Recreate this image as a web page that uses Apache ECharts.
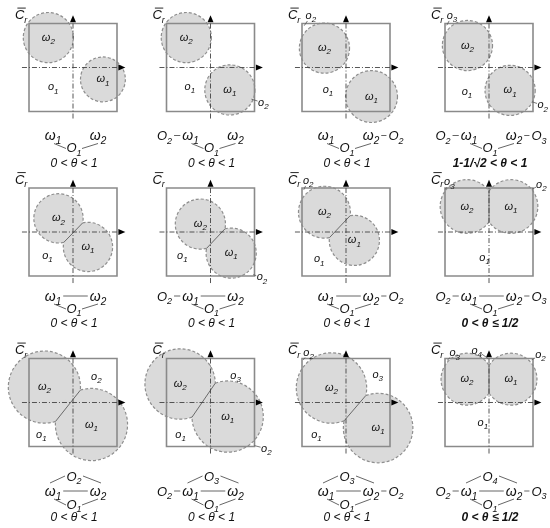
<!DOCTYPE html>
<html>
<head>
<meta charset="utf-8">
<script src="https://cdn.jsdelivr.net/npm/echarts@6/dist/echarts.min.js"></script>
<style>
html, body { margin: 0; background: #fff; }
#main { width: 550px; height: 528px; }
</style>
</head>
<body>
<div id="main"></div>
<script>
// circles, as [centre x, centre y, radius]; the square runs from -1 to 1
var omega1 = [[0.68, -0.27, 0.51], [0.44, -0.51, 0.57], [0.58, -0.66, 0.59], [0.48, -0.52, 0.57],
  [0.34, -0.34, 0.56], [0.47, -0.48, 0.57], [0.19, -0.19, 0.57], [0.5, 0.58, 0.61],
  [0.42, -0.5, 0.82], [0.39, -0.32, 0.81], [0.73, -0.58, 0.79], [0.5, 0.53, 0.59]];
var omega2 = [[-0.56, 0.68, 0.57], [-0.55, 0.68, 0.57], [-0.49, 0.44, 0.57], [-0.49, 0.5, 0.57],
  [-0.33, 0.31, 0.56], [-0.23, 0.18, 0.57], [-0.49, 0.45, 0.59], [-0.5, 0.58, 0.61],
  [-0.65, 0.35, 0.82], [-0.69, 0.42, 0.8], [-0.33, 0.33, 0.8], [-0.5, 0.53, 0.59]];

// region names: [name, x, y, leader target x, leader target y]
var regionLabels = [
  [['o1', -0.45, -0.45]],
  [['o1', -0.47, -0.44], ['o2', 1.2, -0.8, 0.93, -0.72]],
  [['o1', -0.41, -0.5], ['o2', -0.8, 1.17, -0.95, 0.95]],
  [['o1', -0.5, -0.56], ['o3', -0.84, 1.18, -0.96, 0.96], ['o2', 1.22, -0.86, 0.98, -0.78]],
  [['o1', -0.58, -0.55]],
  [['o1', -0.64, -0.55], ['o2', 1.17, -1.03, 0.97, -0.97]],
  [['o1', -0.61, -0.62], ['o2', -0.86, 1.17, -0.96, 0.96]],
  [['o1', -0.1, -0.58], ['o3', -0.9, 1.13, -0.99, 0.97], ['o2', 1.19, 1.08, 0.97, 0.97]],
  [['o1', -0.72, -0.74], ['o2', 0.53, 0.58]],
  [['o1', -0.68, -0.73], ['o3', 0.57, 0.61], ['o2', 1.27, -1.05, 1.0, -0.98]],
  [['o1', -0.67, -0.74], ['o3', 0.72, 0.63], ['o2', -0.85, 1.13, -0.97, 0.97]],
  [['o1', -0.14, -0.47], ['o3', -0.78, 1.12, -0.95, 0.96], ['o4', -0.28, 1.18, -0.02, 1.0], ['o2', 1.17, 1.08, 0.97, 0.97]]
];

// adjacency graphs under each panel
var leftNode = ['', 'O2', '', 'O2', '', 'O2', '', 'O2', '', 'O2', '', 'O2'];
var rightNode = ['', '', 'O2', 'O3', '', '', 'O2', 'O3', '', '', 'O2', 'O3'];
var topNode = ['', '', '', '', '', '', '', '', 'O2', 'O3', 'O3', 'O4'];
var omegaEdge = [0, 0, 0, 0, 1, 1, 1, 1, 1, 1, 1, 1];
var thetaLabel = ['0 < θ < 1', '0 < θ < 1', '0 < θ < 1', '1-1/√2 < θ < 1',
  '0 < θ < 1', '0 < θ < 1', '0 < θ < 1', '0 < θ ≤ 1/2',
  '0 < θ < 1', '0 < θ < 1', '0 < θ < 1', '0 < θ ≤ 1/2'];
var thetaBold = [0, 0, 0, 1, 0, 0, 0, 1, 0, 0, 0, 1];

// layout
var U = 44;
var colX = [73, 210.5, 346, 489];
var rowY = [67.5, 232, 402.5];
var graphRowY = [69, 65, 89.5];

var FILL = '#dadada', EDGE = '#8e8e8e', SQUARE = '#8a8a8a', AXIS = '#444', INK = '#111', LINK = '#555';
var FAMILY = '"Liberation Sans", Arial, sans-serif';
var measure = document.createElement('canvas').getContext('2d');
function font(size, bold) { return 'italic ' + (bold ? 'bold ' : '') + size + 'px ' + FAMILY; }
function widthOf(s, f) { measure.font = f; return measure.measureText(s).width; }
function halfWidth(name, size) {
  return (widthOf(name.charAt(0), font(size)) + widthOf(name.slice(1), font(Math.round(size * 0.7)))) / 2;
}

// a letter with its subscript, centred on (x, y)
function subText(x, y, name, size) {
  var f1 = font(size), f2 = font(Math.round(size * 0.7));
  var main = name.charAt(0), sub = name.slice(1);
  var w1 = widthOf(main, f1);
  var left = x - halfWidth(name, size);
  return [
    { type: 'text', x: left, y: y, z2: 5, style: { text: main, font: f1, fill: INK, align: 'left', verticalAlign: 'middle' } },
    { type: 'text', x: left + w1, y: y + size * 0.37, z2: 5, style: { text: sub, font: f2, fill: INK, align: 'left', verticalAlign: 'middle' } }
  ];
}

function circlesItem(params, api) {
  var a = api.coord([api.value(0), api.value(1)]), ra = api.size([api.value(2), 0])[0];
  var b = api.coord([api.value(3), api.value(4)]), rb = api.size([api.value(5), 0])[0];
  var dx = b[0] - a[0], dy = b[1] - a[1], d = Math.sqrt(dx * dx + dy * dy);
  var dash = { fill: 'none', stroke: EDGE, lineWidth: 1.2, lineDash: [3, 2] };
  var kids = [
    { type: 'circle', z2: 0, shape: { cx: a[0], cy: a[1], r: ra }, style: { fill: FILL } },
    { type: 'circle', z2: 0, shape: { cx: b[0], cy: b[1], r: rb }, style: { fill: FILL } }
  ];
  if (d < ra + rb) {
    var phi = Math.atan2(dy, dx), psi = phi + Math.PI;
    var al = Math.acos((ra * ra + d * d - rb * rb) / (2 * ra * d));
    var be = Math.acos((rb * rb + d * d - ra * ra) / (2 * rb * d));
    kids.push({ type: 'arc', z2: 1, shape: { cx: a[0], cy: a[1], r: ra, startAngle: phi + al, endAngle: phi - al + 2 * Math.PI, clockwise: true }, style: dash });
    kids.push({ type: 'arc', z2: 1, shape: { cx: b[0], cy: b[1], r: rb, startAngle: psi + be, endAngle: psi - be + 2 * Math.PI, clockwise: true }, style: dash });
    kids.push({ type: 'line', z2: 1, shape: {
      x1: a[0] + ra * Math.cos(phi + al), y1: a[1] + ra * Math.sin(phi + al),
      x2: a[0] + ra * Math.cos(phi - al), y2: a[1] + ra * Math.sin(phi - al)
    }, style: { stroke: '#6a6a6a', lineWidth: 1 } });
  } else {
    kids.push({ type: 'circle', z2: 1, shape: { cx: a[0], cy: a[1], r: ra }, style: dash });
    kids.push({ type: 'circle', z2: 1, shape: { cx: b[0], cy: b[1], r: rb }, style: dash });
  }
  return { type: 'group', children: kids };
}

function frameItem(params, api) {
  var cs = params.coordSys;
  var o = api.coord([0, 0]);
  var e = api.size([1.16, 0])[0], t = api.size([1.19, 0])[0];
  var dd = { stroke: AXIS, lineWidth: 0.9, lineDash: [5, 2, 1, 2] };
  return { type: 'group', children: [
    { type: 'rect', shape: { x: cs.x, y: cs.y, width: cs.width, height: cs.height }, style: { fill: 'none', stroke: SQUARE, lineWidth: 1.6 } },
    { type: 'line', shape: { x1: o[0] - e, y1: o[1], x2: o[0] + t - 4, y2: o[1] }, style: dd },
    { type: 'line', shape: { x1: o[0], y1: o[1] + e, x2: o[0], y2: o[1] - t + 4 }, style: dd },
    { type: 'polygon', shape: { points: [[o[0] + t, o[1]], [o[0] + t - 7, o[1] - 3], [o[0] + t - 7, o[1] + 3]] }, style: { fill: '#000' } },
    { type: 'polygon', shape: { points: [[o[0], o[1] - t], [o[0] - 3, o[1] - t + 7], [o[0] + 3, o[1] - t + 7]] }, style: { fill: '#000' } }
  ] };
}

function omegaItem(params, api) {
  var p = api.coord([api.value(0), api.value(1)]);
  return { type: 'group', children: subText(p[0], p[1], params.dataIndex === 0 ? 'ω2' : 'ω1', 11) };
}

function regionItem(i) {
  return function (params, api) {
    var d = regionLabels[i][params.dataIndex];
    var p = api.coord([d[1], d[2]]);
    var kids = subText(p[0], p[1], d[0], 11);
    if (d.length > 3) {
      var t = api.coord([d[3], d[4]]);
      var dx = t[0] - p[0], dy = t[1] - p[1], len = Math.sqrt(dx * dx + dy * dy);
      if (len > 8) {
        kids.push({ type: 'line', shape: { x1: p[0] + dx * 6 / len, y1: p[1] + dy * 6 / len, x2: t[0], y2: t[1] }, style: { stroke: LINK, lineWidth: 0.8 } });
      }
    }
    return { type: 'group', children: kids };
  };
}

function graphItem(i) {
  return function (params, api) {
    var o = api.coord([0, 0]);
    var row = Math.floor(i / 4), S = 14, SO = 13;
    var y = o[1] + graphRowY[row];
    var yTop = y - 15, yLow = y + (row === 2 ? 13 : 12), yTheta = y + (row === 2 ? 26 : 27);
    var xL = o[0] - 46, x1 = o[0] - 20, x2 = o[0] + 25, xR = o[0] + 50, xM = o[0] + 1;
    var kids = [];
    function node(x, yy, n, s) { kids = kids.concat(subText(x, yy, n, s)); }
    function link(ax, ay, bx, by) { kids.push({ type: 'line', shape: { x1: ax, y1: ay, x2: bx, y2: by }, style: { stroke: LINK, lineWidth: 0.9 } }); }
    var hW = halfWidth('ω1', S);
    node(x1, y, 'ω1', S);
    node(x2, y, 'ω2', S);
    node(xM, yLow, 'O1', SO);
    link(x1 + 1, y + 7, xM - 8, yLow);
    link(xM + 8, yLow, x2, y + 7);
    if (omegaEdge[i]) link(x1 + hW + 2, y - 1, x2 - hW - 2, y - 1);
    if (leftNode[i]) {
      node(xL, y, leftNode[i], SO);
      link(xL + halfWidth(leftNode[i], SO) + 2, y - 1, x1 - hW - 2, y - 1);
    }
    if (rightNode[i]) {
      node(xR, y, rightNode[i], SO);
      link(x2 + hW + 2, y - 1, xR - halfWidth(rightNode[i], SO) - 2, y - 1);
    }
    if (topNode[i]) {
      node(xM, yTop, topNode[i], SO);
      link(x1 - 3, y - 9, xM - 9, yTop - 1);
      link(xM + 9, yTop - 1, x2 + 3, y - 9);
    }
    kids.push({ type: 'text', x: xM, y: yTheta, style: { text: thetaLabel[i], font: font(12, thetaBold[i]), fill: INK, align: 'center', verticalAlign: 'middle' } });

    // C-bar-r name at the top left corner
    var c = api.coord([-1.18, 1.18]);
    var fc = font(13), wc = widthOf('C', fc);
    var left = c[0] - halfWidth('Cr', 13);
    kids = kids.concat(subText(c[0], c[1], 'Cr', 13));
    kids.push({ type: 'line', shape: { x1: left + 2.5, y1: c[1] - 7.5, x2: left + wc + 1.5, y2: c[1] - 7.5 }, style: { stroke: INK, lineWidth: 0.9 } });
    return { type: 'group', children: kids };
  };
}

var chart = echarts.init(document.getElementById('main'));
var grids = [], xAxes = [], yAxes = [], series = [];
for (var i = 0; i < 12; i++) {
  var c = i % 4, r = Math.floor(i / 4);
  grids.push({ left: colX[c] - U, top: rowY[r] - U, width: 2 * U, height: 2 * U });
  xAxes.push({ type: 'value', gridIndex: i, min: -1, max: 1, show: false });
  yAxes.push({ type: 'value', gridIndex: i, min: -1, max: 1, show: false });
  series.push({ type: 'custom', xAxisIndex: i, yAxisIndex: i, z: 1, clip: false, silent: true,
    data: [omega2[i].concat(omega1[i])], renderItem: circlesItem });
  series.push({ type: 'custom', xAxisIndex: i, yAxisIndex: i, z: 2, clip: false, silent: true,
    data: [[0, 0]], renderItem: frameItem });
  series.push({ type: 'custom', xAxisIndex: i, yAxisIndex: i, z: 3, clip: false, silent: true,
    data: [omega2[i].slice(0, 2), omega1[i].slice(0, 2)], renderItem: omegaItem });
  series.push({ type: 'custom', xAxisIndex: i, yAxisIndex: i, z: 3, clip: false, silent: true,
    data: regionLabels[i].map(function (d) { return [d[1], d[2]]; }), renderItem: regionItem(i) });
  series.push({ type: 'custom', xAxisIndex: i, yAxisIndex: i, z: 3, clip: false, silent: true,
    data: [[0, 0]], renderItem: graphItem(i) });
}

chart.setOption({
  animation: false,
  grid: grids,
  xAxis: xAxes,
  yAxis: yAxes,
  series: series
});
</script>
</body>
</html>
